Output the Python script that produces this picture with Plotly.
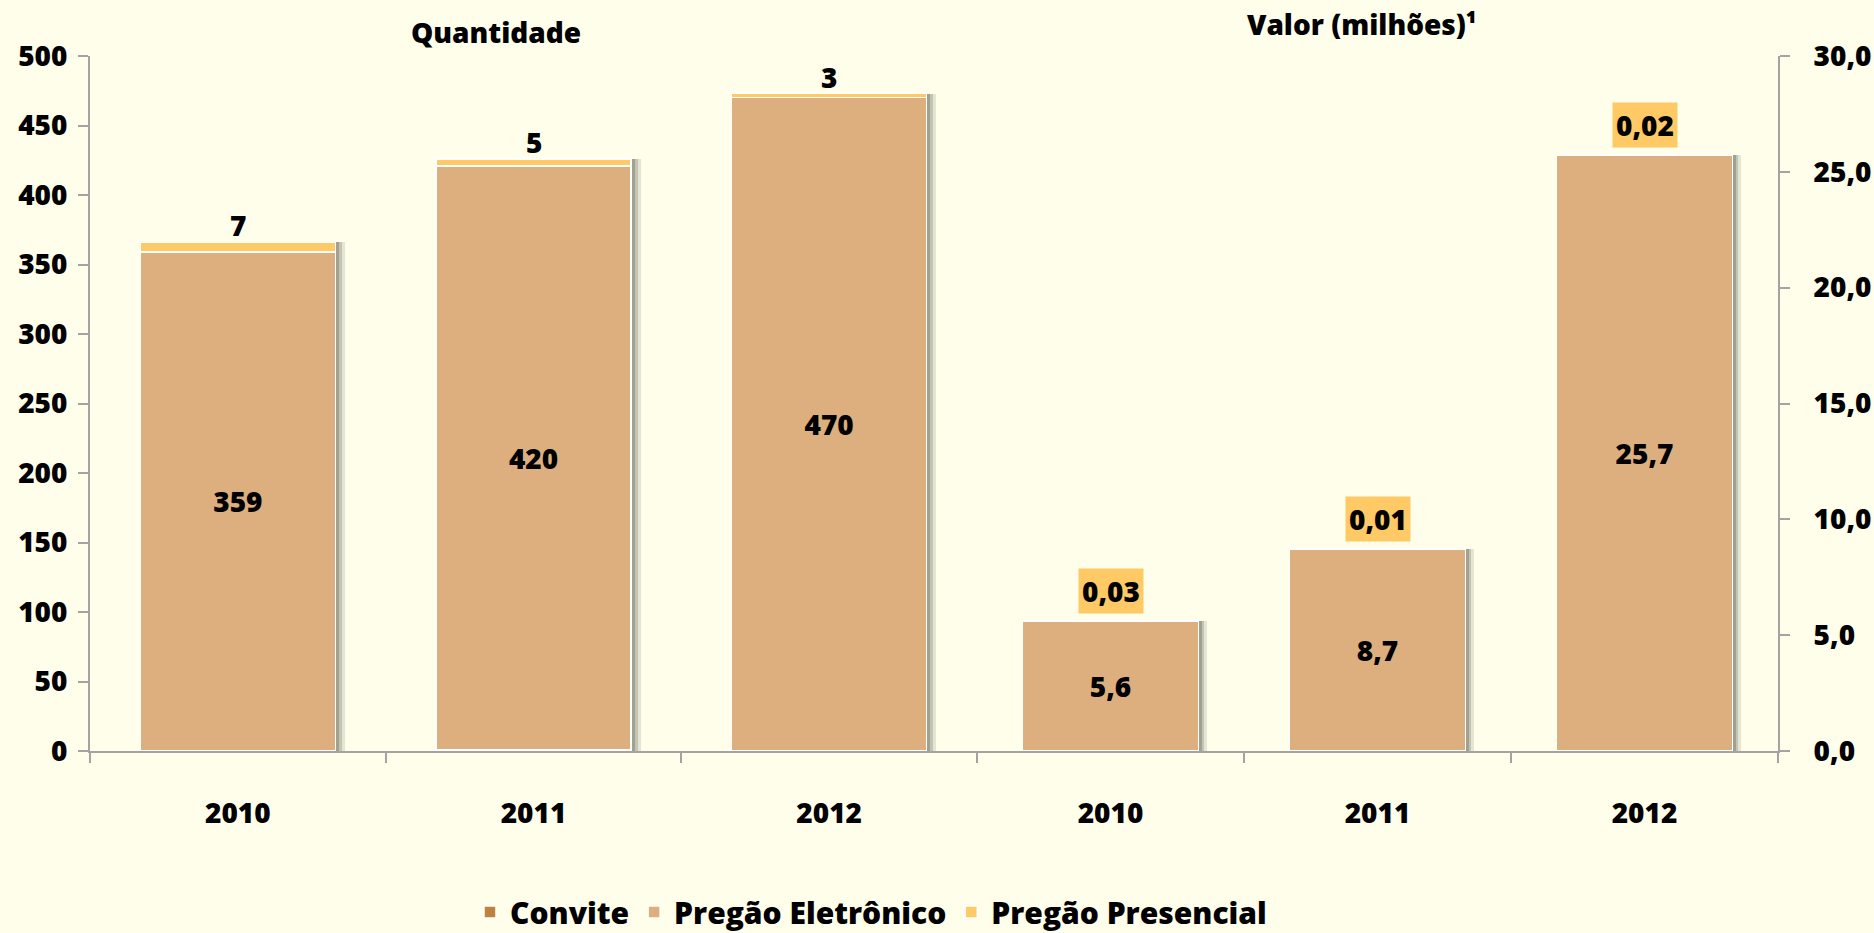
import plotly.graph_objects as go

# ---------------- data ----------------
years = ["2010", "2011", "2012"]
series_names = ["Convite", "Pregão Eletrônico", "Pregão Presencial"]

qtd_convite = [0, 1, 0]
qtd_eletronico = [359, 420, 470]
qtd_presencial = [7, 5, 3]

val_convite = [0, 0, 0]
val_eletronico = [5.6, 8.7, 25.7]
val_presencial = [0.03, 0.01, 0.02]

left_ticks = [0, 50, 100, 150, 200, 250, 300, 350, 400, 450, 500]
right_ticks = [0, 5, 10, 15, 20, 25, 30]

title_left = "Quantidade"
title_right = "Valor (milhões)¹"

# ---------------- style ----------------
colors = ["#C0803E", "#DEAF7E", "#FFC966"]
BG = "#FEFEEB"
AXIS = "#A3A3A3"
FONT = "Open Sans"
WEIGHT = 800
BAR_W = 0.66
W, H = 1874, 933


def fmt(v, d):
    return f"{v:.{d}f}".replace(".", ",")


def tfont(size=28):
    return dict(family=FONT, size=size, color="black", weight=WEIGHT)


fig = go.Figure()

qtd = [qtd_convite, qtd_eletronico, qtd_presencial]
val = [val_convite, val_eletronico, val_presencial]
qtd_tot = [sum(t) for t in zip(*qtd)]
val_tot = [sum(t) for t in zip(*val)]

# shadows (drawn first, behind bars; 'base' excludes them from stacking)
for xa, ya, tot in (("x", "y", qtd_tot), ("x2", "y2", val_tot)):
    for off, alpha in ((0.032, 0.14), (0.022, 0.22), (0.012, 0.30)):
        fig.add_trace(go.Bar(
            x=years, y=tot, base=[0] * len(tot), width=BAR_W,
            offset=-BAR_W / 2 + off,
            marker=dict(color=f"rgba(80,80,70,{alpha})", line=dict(width=0)),
            showlegend=False, hoverinfo="skip", xaxis=xa, yaxis=ya,
        ))

for i, name in enumerate(series_names):
    is_mid = (i == 1)
    fig.add_trace(go.Bar(
        x=years, y=qtd[i], name=name, width=BAR_W,
        marker=dict(color=colors[i], line=dict(color="white", width=1.5)),
        text=[str(v) for v in qtd[i]] if is_mid else None,
        textposition="inside" if is_mid else "none",
        insidetextanchor="middle", textangle=0,
        textfont=tfont(),
        legendgroup=name, showlegend=True, xaxis="x", yaxis="y",
    ))
for i, name in enumerate(series_names):
    is_mid = (i == 1)
    fig.add_trace(go.Bar(
        x=years, y=val[i], name=name, width=BAR_W,
        marker=dict(color=colors[i], line=dict(color="white", width=1.5)),
        text=[fmt(v, 1) for v in val[i]] if is_mid else None,
        textposition="inside" if is_mid else "none",
        insidetextanchor="middle", textangle=0,
        textfont=tfont(),
        legendgroup=name, showlegend=False, xaxis="x2", yaxis="y2",
    ))

annotations = []
# labels above left bars (Pregão Presencial quantity); x given as category index
for idx, (t, v) in enumerate(zip(qtd_tot, qtd_presencial)):
    annotations.append(dict(
        x=idx, y=t, xref="x", yref="y", text=str(v), showarrow=False,
        yanchor="middle", yshift=17, font=tfont(),
    ))
# boxed labels above right bars
for idx, (t, v) in enumerate(zip(val_tot, val_presencial)):
    annotations.append(dict(
        x=idx, y=t, xref="x2", yref="y2", text=fmt(v, 2), showarrow=False,
        yanchor="middle", yshift=30, bgcolor=colors[2], borderpad=3, font=tfont(),
    ))

plot_top, plot_bot = 56, 751
ph = plot_bot - plot_top


def py(pix):
    return (plot_bot - pix) / ph


annotations.append(dict(x=496 / W, y=py(32), xref="paper", yref="paper",
                        text=title_left, showarrow=False, xanchor="center", yanchor="middle",
                        font=tfont()))
annotations.append(dict(x=1362 / W, y=py(24), xref="paper", yref="paper",
                        text=title_right, showarrow=False, xanchor="center", yanchor="middle",
                        font=tfont()))

xl = [90 / W, 977 / W]
xr = [977 / W, 1778 / W]

common_x = dict(type="category", tickson="boundaries", ticks="outside", ticklen=10,
                tickwidth=1.5, tickcolor=AXIS, showline=True, linecolor=AXIS, linewidth=2,
                showgrid=False, zeroline=False, ticklabelstandoff=36,
                tickfont=tfont(), fixedrange=True)
common_y = dict(ticks="outside", ticklen=10, tickwidth=1.5, tickcolor=AXIS,
                showline=True, linecolor=AXIS, linewidth=2, showgrid=False,
                zeroline=False, tickfont=tfont(), domain=[0, 1], fixedrange=True)

fig.update_layout(
    width=W, height=H,
    barmode="stack",
    separators=",.",
    paper_bgcolor=BG, plot_bgcolor=BG,
    margin=dict(l=0, r=0, t=plot_top, b=H - plot_bot),
    font=dict(family=FONT, size=28, color="black"),
    xaxis=dict(domain=xl, anchor="y", range=[-0.5, 2.5], **common_x),
    yaxis=dict(anchor="x", range=[0, 500], tickvals=left_ticks, side="left",
               ticklabelstandoff=5, **common_y),
    xaxis2=dict(domain=xr, anchor="y2", range=[-0.5, 2.5], **common_x),
    yaxis2=dict(anchor="x2", range=[0, 30], tickvals=right_ticks, side="right",
                tickformat=".1f", ticklabelstandoff=18, **common_y),
    legend=dict(orientation="h", x=871 / W, xanchor="center", yref="container",
                y=1 - 912 / H, yanchor="middle", traceorder="normal",
                font=tfont(30), itemwidth=30, bgcolor="rgba(0,0,0,0)"),
    annotations=annotations,
    showlegend=True,
)

fig.write_html(
    "out.html",
    config={"displayModeBar": False},
    post_script="document.body.style.margin='0';document.body.style.background='%s';" % BG,
)
